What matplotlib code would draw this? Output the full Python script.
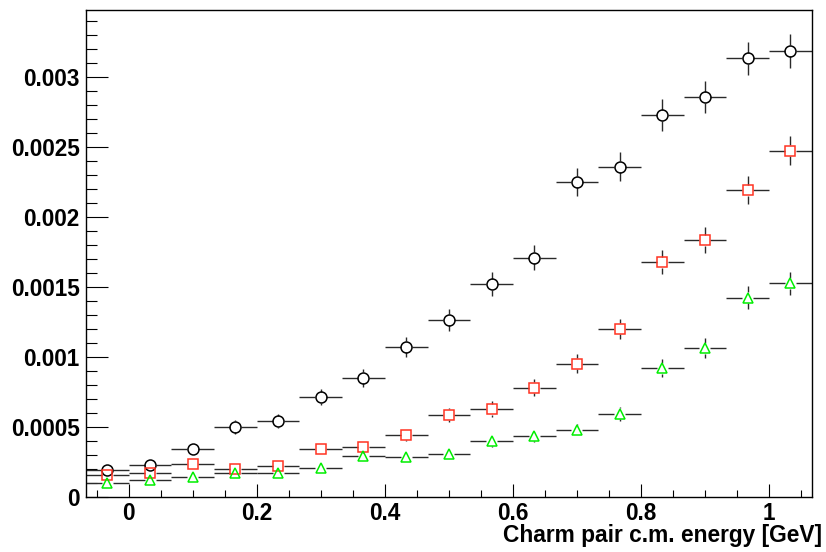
import numpy as np
import matplotlib
matplotlib.use("Agg")
import matplotlib.pyplot as plt
from matplotlib.ticker import MultipleLocator, FormatStrFormatter
from matplotlib.collections import LineCollection

# bin centres (17 bins of width 1/15 from -1/15 to 16/15)
bin_lo = -1.0 / 15
bin_w = 1.0 / 15
nbins = 17
x = bin_lo + bin_w * (np.arange(nbins) + 0.5)

circ_y = [0.00019, 0.000226, 0.000341, 0.000498, 0.00054, 0.000712, 0.000848,
          0.001071, 0.001262, 0.001519, 0.001707, 0.002248, 0.002357, 0.002725,
          0.002853, 0.003131, 0.003186]
circ_e = [0.000029, 0.000032, 0.000039, 0.000048, 0.000049, 0.000057, 0.000062,
          0.00007, 0.000076, 0.000084, 0.000089, 0.000102, 0.000104, 0.000112,
          0.000115, 0.00012, 0.000121]

sq_y = [0.000155, 0.000169, 0.000234, 0.000198, 0.000219, 0.000341, 0.000355,
        0.000441, 0.000584, 0.000626, 0.000779, 0.00095, 0.001198, 0.001676,
        0.001833, 0.00219, 0.002471]
sq_e = [0.000026, 0.000027, 0.000032, 0.000029, 0.000031, 0.000039, 0.00004,
        0.000045, 0.000051, 0.000054, 0.00006, 0.000066, 0.000074, 0.000088,
        0.000092, 0.000101, 0.000104]

tri_y = [0.000098, 0.000119, 0.000141, 0.000169, 0.000169, 0.000205, 0.000291,
         0.000284, 0.000305, 0.000398, 0.000434, 0.000476, 0.000591, 0.000917,
         0.00106, 0.001421, 0.001524]
tri_e = [0.00002, 0.000022, 0.000025, 0.000027, 0.000027, 0.00003, 0.000036,
         0.000035, 0.000037, 0.000042, 0.000044, 0.000046, 0.000052, 0.000065,
         0.00007, 0.000081, 0.000084]

xmin, xmax = bin_lo, bin_lo + nbins * bin_w
ymin, ymax = 0.0, 0.003476

plt.rcParams['font.family'] = ['Liberation Sans', 'DejaVu Sans']
plt.rcParams['font.weight'] = 'bold'

W, H, DPI = 826, 552, 100
fig = plt.figure(figsize=(W / DPI, H / DPI), dpi=DPI)
ax = fig.add_axes([86 / W, (H - 496.7) / H, (811.7 - 86) / W, (496.7 - 10) / H])
ax.set_xlim(xmin, xmax)
ax.set_ylim(ymin, ymax)

# data units per pixel, used to leave a gap around the markers
dxpp = (xmax - xmin) / (811.7 - 86)
dypp = (ymax - ymin) / (496.7 - 10)
gap = 5.5


def draw_errors(ys, es):
    segs = []
    for xi, yi, ei in zip(x, ys, es):
        gx = gap * dxpp
        gy = gap * dypp
        segs.append([(xi - bin_w / 2, yi), (xi - gx, yi)])
        segs.append([(xi + gx, yi), (xi + bin_w / 2, yi)])
        if ei > gy:
            segs.append([(xi, yi - ei), (xi, yi - gy)])
            segs.append([(xi, yi + gy), (xi, yi + ei)])
    ax.add_collection(LineCollection(segs, colors='#2a2a2a', linewidths=1.0, zorder=2))


draw_errors(circ_y, circ_e)
draw_errors(sq_y, sq_e)
draw_errors(tri_y, tri_e)

ax.plot(x, circ_y, 'o', ms=7.9, mfc='none', mec='black', mew=1.1, zorder=3)
ax.plot(x, sq_y, 's', ms=7.7, mfc='none', mec='#ff3322', mew=1.1, zorder=3)
ax.plot(x, tri_y, '^', ms=7.4, mfc='none', mec='#00ee00', mew=1.1, zorder=3)

ax.xaxis.set_major_locator(MultipleLocator(0.2))
ax.xaxis.set_minor_locator(MultipleLocator(0.05))
ax.yaxis.set_major_locator(MultipleLocator(0.0005))
ax.yaxis.set_minor_locator(MultipleLocator(0.0001))
ax.xaxis.set_major_formatter(FormatStrFormatter('%g'))
ax.yaxis.set_major_formatter(FormatStrFormatter('%g'))

ax.tick_params(axis='both', which='both', direction='in', top=False, right=False,
               width=0.8, labelsize=16.3, colors='black')
ax.tick_params(axis='x', which='major', length=9.4, pad=4)
ax.tick_params(axis='x', which='minor', length=4.8)
ax.tick_params(axis='y', which='major', length=15.6, pad=4.5)
ax.tick_params(axis='y', which='minor', length=7.7)
for lab in ax.get_xticklabels() + ax.get_yticklabels():
    lab.set_fontweight('bold')

for s in ax.spines.values():
    s.set_linewidth(1.0)

ax.set_xlabel('Charm pair c.m. energy [GeV]', fontsize=16.4, fontweight='bold',
              ha='right')
ax.xaxis.set_label_coords(1.014, -0.079)
ax.xaxis.label.set_va('center')

fig.savefig('out.png', dpi=DPI)
